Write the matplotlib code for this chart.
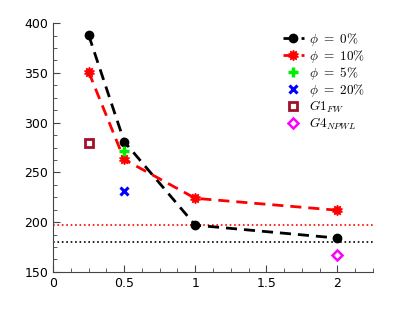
import matplotlib
matplotlib.use('Agg')
import matplotlib.pyplot as plt
from matplotlib.ticker import AutoMinorLocator

plt.rcParams['mathtext.fontset'] = 'cm'

# --- data ---
x_main = [0.25, 0.5, 1.0, 2.0]
phi0 = [388, 281, 197, 184]
phi10 = [351, 263, 224, 212]
x_phi5, y_phi5 = [0.5], [272]
x_phi20, y_phi20 = [0.5], [231]
x_g1, y_g1 = [0.25], [280]
x_g4, y_g4 = [2.0], [167]
ref_red = 197
ref_black = 180

fig = plt.figure(figsize=(4.12, 3.09), dpi=100)
ax = fig.add_axes([0.129, 0.12, 0.776, 0.805])

ax.axhline(ref_red, color='red', linestyle=':', linewidth=1.2)
ax.axhline(ref_black, color='black', linestyle=':', linewidth=1.2)

ax.plot(x_main, phi0, color='black', linestyle=(0, (4, 2.5)), linewidth=2,
        marker='o', markersize=6, label=r'$\phi\ =\ 0\%$')
ax.plot(x_main, phi10, color='red', linestyle=(0, (4, 2.5)), linewidth=2,
        marker=(10, 1, 0), markersize=7.5, label=r'$\phi\ =\ 10\%$')
ax.plot(x_phi5, y_phi5, linestyle='none', marker='+', color='#00ee00',
        markersize=7, markeredgewidth=2.5, label=r'$\phi\ =\ 5\%$')
ax.plot(x_phi20, y_phi20, linestyle='none', marker='x', color='blue',
        markersize=5.5, markeredgewidth=2.2, label=r'$\phi\ =\ 20\%$')
ax.plot(x_g1, y_g1, linestyle='none', marker='s', color='#a0102a',
        markerfacecolor='white', markersize=5.5, markeredgewidth=2, label=r'$G1_{FW}$')
ax.plot(x_g4, y_g4, linestyle='none', marker='D', color='magenta',
        markerfacecolor='white', markersize=5.5, markeredgewidth=1.8, label=r'$G4_{NPWL}$')

ax.set_xlim(0, 2.25)
ax.set_ylim(150, 400)
ax.set_xticks([0, 0.5, 1, 1.5, 2])
ax.set_xticklabels(['0', '0.5', '1', '1.5', '2'])
ax.set_yticks([150, 200, 250, 300, 350, 400])
ax.xaxis.set_minor_locator(AutoMinorLocator(4))
ax.yaxis.set_minor_locator(AutoMinorLocator(4))
ax.tick_params(which='both', direction='in', labelsize=9, color='#444444')
ax.tick_params(which='major', length=5)
ax.tick_params(which='minor', length=3)
ax.spines['top'].set_visible(False)
ax.spines['right'].set_visible(False)
ax.spines['left'].set_color('#444444')
ax.spines['bottom'].set_color('#444444')

ax.legend(loc='upper right', frameon=False, fontsize=9.5, handlelength=1.6,
          handletextpad=0.4, labelspacing=0.0, borderaxespad=0.2,
          bbox_to_anchor=(1.0, 1.0))

fig.savefig('out.png', dpi=100)
